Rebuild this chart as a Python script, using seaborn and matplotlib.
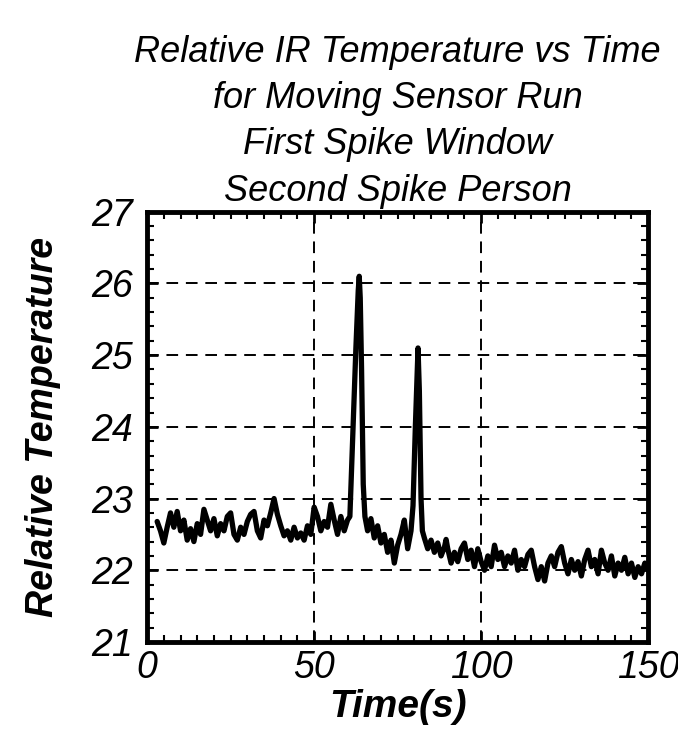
import matplotlib
matplotlib.use("Agg")
from matplotlib import pyplot as plt
from matplotlib.ticker import MultipleLocator
import numpy as np
import pandas as pd
import seaborn as sns

# time in seconds and relative temperature
time_s = [3, 4, 5, 6, 7, 8, 9, 10, 11, 12, 13, 14, 15, 16, 17, 18, 19, 20,
          21, 22, 23, 24, 25, 26, 27, 28, 29, 30, 31, 32, 33, 34, 35, 36, 37,
          38, 39, 40, 41, 42, 43, 44, 45, 46, 47, 48, 49, 50, 51, 52, 53, 54,
          55, 56, 57, 58, 59, 60, 60.7, 61.5, 62.5, 63.2, 63.5, 63.8, 64.2,
          64.7, 65.2, 66, 67, 68, 69, 70, 71, 72, 73, 74, 75, 76, 77, 78, 79,
          79.6, 80.3, 81.1, 81.5, 82.0, 82.4, 83, 84, 85, 86, 87, 88, 89,
          89.5, 90, 91, 92, 93, 94, 95, 96, 97, 98, 99, 100, 101, 102, 103,
          104, 105, 106, 107, 108, 109, 110, 111, 112, 113, 114, 115, 116,
          117, 118, 119, 120, 121, 122, 123, 124, 125, 126, 127, 128, 129,
          130, 131, 132, 133, 134, 135, 136, 137, 138, 139, 140, 141, 142,
          143, 144, 145, 146, 147, 148, 149, 150]
rel_temp = [22.68, 22.55, 22.38, 22.6, 22.8, 22.6, 22.82, 22.55, 22.7, 22.42,
            22.58, 22.4, 22.65, 22.5, 22.85, 22.7, 22.55, 22.72, 22.48, 22.65,
            22.55, 22.75, 22.8, 22.5, 22.42, 22.6, 22.5, 22.68, 22.78, 22.82,
            22.55, 22.45, 22.7, 22.62, 22.8, 23.0, 22.78, 22.62, 22.48, 22.55,
            22.42, 22.6, 22.45, 22.52, 22.42, 22.62, 22.5, 22.88, 22.75, 22.55,
            22.68, 22.6, 22.92, 22.7, 22.5, 22.75, 22.55, 22.7, 22.75, 23.8,
            25.1, 25.9, 26.1, 25.8, 24.8, 23.2, 22.75, 22.55, 22.72, 22.45,
            22.62, 22.38, 22.5, 22.25, 22.42, 22.1, 22.35, 22.5, 22.7, 22.3,
            22.55, 22.9, 24.0, 25.1, 24.5, 23.0, 22.55, 22.45, 22.3, 22.42,
            22.25, 22.38, 22.2, 22.32, 22.43, 22.3, 22.1, 22.25, 22.12, 22.3,
            22.38, 22.15, 22.28, 22.05, 22.3, 22.12, 22.0, 22.2, 22.05, 22.35,
            22.15, 22.25, 22.05, 22.2, 22.1, 22.28, 22.0, 22.15, 22.05, 22.22,
            22.28, 22.05, 21.87, 22.05, 21.85, 22.1, 22.2, 22.05, 22.25, 22.33,
            22.1, 21.95, 22.15, 22.0, 22.12, 21.92, 22.15, 22.28, 22.05, 22.15,
            21.95, 22.28, 22.1, 22.0, 22.2, 21.92, 22.1, 22.0, 22.18, 21.95,
            22.1, 21.9, 22.05, 21.95, 22.1, 22.0]

df = pd.DataFrame({"Time(s)": time_s, "Relative Temperature": rel_temp})

sns.set_style("ticks")
plt.rcParams['font.family'] = ['Liberation Sans', 'DejaVu Sans']
plt.rcParams['font.style'] = 'italic'
plt.rcParams['text.color'] = 'black'
plt.rcParams['axes.labelcolor'] = 'black'
plt.rcParams['xtick.color'] = 'black'
plt.rcParams['ytick.color'] = 'black'

fig = plt.figure(figsize=(6.78, 7.43), dpi=100)
ax = fig.add_axes([0.217, 0.136, 0.739, 0.579])

sns.lineplot(data=df, x="Time(s)", y="Relative Temperature", ax=ax,
             color="black", linewidth=3.8, estimator=None, sort=False)

ax.set_xlim(0, 150)
ax.set_ylim(21, 27)
ax.xaxis.set_major_locator(MultipleLocator(50))
ax.xaxis.set_minor_locator(MultipleLocator(5))
ax.yaxis.set_major_locator(MultipleLocator(1))
ax.yaxis.set_minor_locator(MultipleLocator(0.2))
ax.grid(True, which='major', color='black', linestyle=(0, (6, 4)), linewidth=1.4)

for sp in ax.spines.values():
    sp.set_visible(True)
    sp.set_linewidth(3.5)
    sp.set_color('black')

ax.tick_params(which='both', direction='in', top=True, right=True, color='black')
ax.tick_params(which='major', length=8, width=2, labelsize=27)
ax.tick_params(axis='y', which='major', pad=10)
ax.tick_params(axis='x', which='major', pad=6)
ax.tick_params(which='minor', length=5, width=1.5)

ax.set_xlabel("Time(s)", fontsize=28, fontweight='bold', style='italic', labelpad=2)
ax.set_ylabel("Relative Temperature", fontsize=27, fontweight='bold', style='italic', labelpad=22)
ax.set_title("Relative IR Temperature vs Time\nfor Moving Sensor Run\nFirst Spike Window\nSecond Spike Person",
             fontsize=26, style='italic', linespacing=1.42, pad=8)

fig.savefig("out.png", dpi=100)
